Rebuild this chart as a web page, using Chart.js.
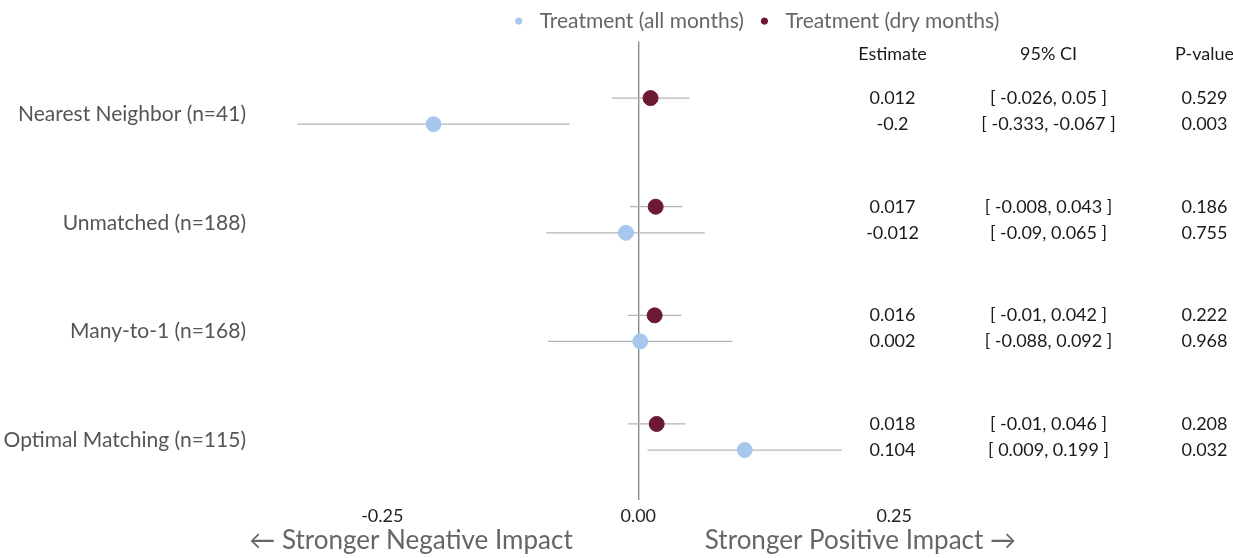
<!DOCTYPE html>
<html>
<head>
<meta charset="utf-8">
<script src="https://cdn.jsdelivr.net/npm/chart.js@4.4.1/dist/chart.umd.min.js"></script>
<style>
  html, body { margin: 0; padding: 0; background: #fff; }
  #wrap { width: 1233px; height: 558px; }
</style>
</head>
<body>
<div id="wrap"><canvas id="forest"></canvas></div>
<script>
const FONT = "Lato, 'Open Sans', sans-serif";

const models = ["Nearest Neighbor (n=41)", "Unmatched (n=188)", "Many-to-1 (n=168)", "Optimal Matching (n=115)"];

const allEst = [-0.2, -0.012, 0.002, 0.104];
const allLow = [-0.333, -0.09, -0.088, 0.009];
const allHigh = [-0.067, 0.065, 0.092, 0.199];
const allP = ["0.003", "0.755", "0.968", "0.032"];

const dryEst = [0.012, 0.017, 0.016, 0.018];
const dryLow = [-0.026, -0.008, -0.01, -0.01];
const dryHigh = [0.05, 0.043, 0.042, 0.046];
const dryP = ["0.529", "0.186", "0.222", "0.208"];

const xTicks = [-0.25, 0, 0.25];
const tableHeaders = ["Estimate", "95% CI", "P-value"];

const BLUE = "#a7c7ee";
const RED = "#6b1a31";
const OFFSET = 0.12;

const allPoints = allEst.map((v, i) => ({ x: v, y: i + OFFSET, lo: allLow[i], hi: allHigh[i] }));
const dryPoints = dryEst.map((v, i) => ({ x: v, y: i - OFFSET, lo: dryLow[i], hi: dryHigh[i] }));

// whiskers behind the dots
const errorBars = {
    id: "errorBars",
    beforeDatasetsDraw(chart) {
        const { ctx, scales: { x, y } } = chart;
        ctx.save();
        ctx.strokeStyle = "#b5b5b5";
        ctx.lineWidth = 1.3;
        chart.data.datasets.forEach(ds => {
            ds.data.forEach(p => {
                const py = y.getPixelForValue(p.y);
                ctx.beginPath();
                ctx.moveTo(x.getPixelForValue(p.lo), py);
                ctx.lineTo(x.getPixelForValue(p.hi), py);
                ctx.stroke();
            });
        });
        ctx.restore();
    }
};

// estimate / CI / p-value table and the direction labels
const sideText = {
    id: "sideText",
    afterDraw(chart) {
        const { ctx, chartArea, scales: { x, y } } = chart;
        const cols = [chartArea.right - 332, chartArea.right - 176, chartArea.right - 20];
        ctx.save();
        ctx.textAlign = "center";
        ctx.textBaseline = "middle";
        ctx.fillStyle = "#1a1a1a";
        ctx.font = "18px " + FONT;
        const hy = y.getPixelForValue(-0.52);
        tableHeaders.forEach((h, j) => ctx.fillText(h, cols[j], hy));

        const fmt = (a, b) => "[ " + a + ", " + b + " ]";
        for (let i = 0; i < models.length; i++) {
            const y1 = y.getPixelForValue(i - OFFSET);
            const y2 = y.getPixelForValue(i + OFFSET);
            ctx.fillText(String(dryEst[i]), cols[0], y1);
            ctx.fillText(fmt(dryLow[i], dryHigh[i]), cols[1], y1);
            ctx.fillText(dryP[i], cols[2], y1);
            ctx.fillText(String(allEst[i]), cols[0], y2);
            ctx.fillText(fmt(allLow[i], allHigh[i]), cols[1], y2);
            ctx.fillText(allP[i], cols[2], y2);
        }

        ctx.fillStyle = "#666";
        ctx.font = "26px " + FONT;
        const by = chartArea.bottom + 41;
        ctx.fillText("\u2190 Stronger Negative Impact", x.getPixelForValue(-0.222), by);
        ctx.fillText("Stronger Positive Impact \u2192", x.getPixelForValue(0.217), by);
        ctx.restore();
    }
};

new Chart(document.getElementById("forest"), {
    type: "scatter",
    data: {
        datasets: [{
            label: "Treatment (all months)",
            data: allPoints,
            backgroundColor: BLUE,
            borderColor: BLUE,
            pointRadius: 7.5,
            pointHoverRadius: 7.5
        }, {
            label: "Treatment (dry months)",
            data: dryPoints,
            backgroundColor: RED,
            borderColor: RED,
            pointRadius: 7.5,
            pointHoverRadius: 7.5
        }]
    },
    options: {
        responsive: true,
        maintainAspectRatio: false,
        animation: false,
        layout: { padding: { top: -3 } },
        plugins: {
            legend: {
                position: "top",
                fullSize: false,
                labels: {
                    usePointStyle: true,
                    pointStyle: "circle",
                    boxWidth: 21,
                    boxHeight: 4.5,
                    padding: 10,
                    color: "#666",
                    font: { family: FONT, size: 21 }
                }
            },
            tooltip: { enabled: false }
        },
        scales: {
            x: {
                type: "linear",
                min: -0.347,
                max: 0.5726,
                afterBuildTicks: s => { s.ticks = xTicks.map(v => ({ value: v })); },
                afterFit: s => { s.height = 58; },
                border: { display: false },
                grid: {
                    drawTicks: false,
                    color: c => c.tick && c.tick.value === 0 ? "#8c8c8c" : "rgba(0,0,0,0)",
                    lineWidth: 1.4
                },
                ticks: {
                    padding: 5,
                    color: "#222",
                    font: { family: FONT, size: 18 },
                    callback: v => v.toFixed(2)
                }
            },
            y: {
                type: "linear",
                reverse: true,
                min: -0.64,
                max: 3.58,
                afterBuildTicks: s => { s.ticks = models.map((m, i) => ({ value: i })); },
                afterFit: s => { s.width = 283; },
                border: { display: false },
                grid: { display: false },
                ticks: {
                    padding: 29,
                    labelOffset: 3,
                    color: "#555",
                    font: { family: FONT, size: 21 },
                    callback: v => models[v]
                }
            }
        }
    },
    plugins: [errorBars, sideText]
});
</script>
</body>
</html>
